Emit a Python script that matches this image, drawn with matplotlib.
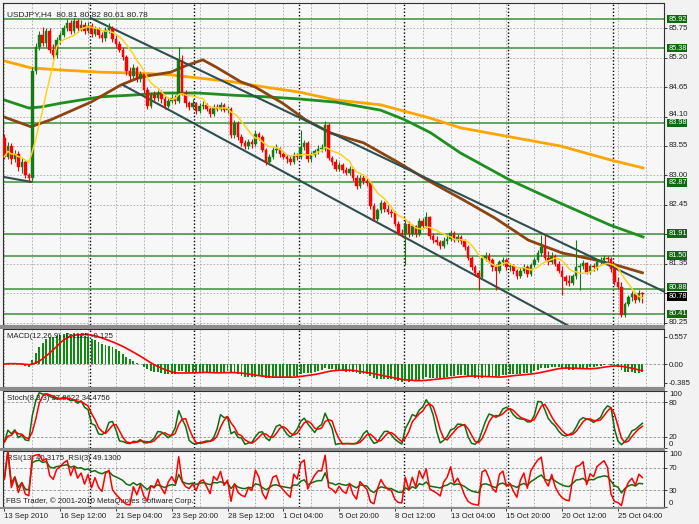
import matplotlib
matplotlib.use("Agg")
import matplotlib.pyplot as plt
import matplotlib.transforms as mtransforms
from matplotlib.patches import Rectangle
import pandas as pd

# ---- USDJPY H4 candles (bar 0 = 13 Sep 2010 20:00) ----
opens = [83.70, 83.35, 83.55, 83.30, 83.40, 83.15, 83.25, 83.00, 82.95, 84.95,
         85.40, 85.62, 85.48, 85.70, 85.34, 85.25, 85.53, 85.62, 85.75, 85.85,
         85.70, 85.88, 85.75, 85.82, 85.70, 85.80, 85.64, 85.74, 85.62, 85.56,
         85.72, 85.76, 85.55, 85.45, 85.35, 85.22, 84.95, 84.85, 85.00, 84.80,
         84.90, 84.60, 84.30, 84.50, 84.45, 84.55, 84.42, 84.30, 84.40, 84.45,
         84.40, 85.15, 84.55, 84.35, 84.28, 84.35, 84.20, 84.30, 84.32, 84.25,
         84.15, 84.28, 84.25, 84.32, 84.22, 84.25, 83.75, 83.98, 83.72, 83.60,
         83.55, 83.62, 83.58, 83.78, 83.72, 83.48, 83.25, 83.35, 83.48, 83.50,
         83.40, 83.35, 83.30, 83.25, 83.38, 83.35, 83.53, 83.60, 83.30, 83.38,
         83.45, 83.50, 83.50, 83.95, 83.32, 83.25, 83.12, 83.20, 83.10, 83.05,
         83.12, 82.95, 82.80, 82.95, 82.90, 82.85, 82.42, 82.18, 82.35, 82.48,
         82.38, 82.32, 82.30, 82.10, 81.92, 81.90, 82.10, 81.90, 82.05, 81.90,
         82.15, 82.05, 82.22, 81.86, 81.80, 81.75, 81.68, 81.78, 81.82, 81.93,
         81.80, 81.84, 81.78, 81.66, 81.46, 81.28, 81.18, 81.10, 81.46, 81.50,
         81.42, 81.28, 81.22, 81.38, 81.42, 81.28, 81.30, 81.22, 81.12, 81.22,
         81.28, 81.15, 81.32, 81.42, 81.55, 81.66, 81.46, 81.38, 81.50, 81.35,
         81.22, 81.10, 81.02, 80.99, 81.12, 81.28, 81.30, 81.36, 81.20, 81.30,
         81.28, 81.38, 81.42, 81.46, 81.44, 81.25, 81.00, 80.92, 80.40, 80.60,
         80.72, 80.78, 80.68, 80.81]
highs = [83.78, 83.62, 83.60, 83.48, 83.45, 83.32, 83.28, 83.05, 85.02, 85.48,
         85.70, 85.78, 85.76, 85.75, 85.45, 85.58, 85.68, 85.82, 85.92, 85.90,
         85.95, 85.93, 85.90, 85.86, 85.87, 85.84, 85.80, 85.78, 85.68, 85.78,
         85.84, 85.80, 85.62, 85.52, 85.40, 85.26, 85.02, 85.08, 85.05, 84.96,
         84.94, 84.66, 84.56, 84.58, 84.60, 84.60, 84.48, 84.46, 84.52, 84.50,
         85.40, 85.25, 84.60, 84.40, 84.42, 84.38, 84.36, 84.40, 84.36, 84.30,
         84.34, 84.34, 84.38, 84.36, 84.30, 84.28, 84.04, 84.02, 83.78, 83.66,
         83.68, 83.68, 83.84, 83.82, 83.76, 83.52, 83.40, 83.54, 83.58, 83.54,
         83.46, 83.40, 83.36, 83.44, 83.42, 83.85, 83.66, 83.64, 83.44, 83.50,
         83.56, 83.58, 84.02, 83.98, 83.36, 83.30, 83.26, 83.24, 83.16, 83.18,
         83.15, 83.00, 83.00, 83.00, 82.96, 82.88, 82.48, 82.40, 82.54, 82.52,
         82.44, 82.38, 82.34, 82.14, 82.00, 82.16, 82.14, 82.10, 82.08, 82.20,
         82.20, 82.32, 82.25, 81.92, 81.86, 81.80, 81.84, 81.88, 81.98, 81.96,
         81.90, 81.88, 81.82, 81.70, 81.50, 81.32, 81.24, 81.50, 81.56, 81.55,
         81.46, 81.34, 81.42, 81.48, 81.46, 81.36, 81.34, 81.26, 81.28, 81.34,
         81.32, 81.36, 81.48, 81.60, 81.89, 81.89, 81.58, 81.56, 81.54, 81.40,
         81.30, 81.14, 81.14, 81.16, 81.79, 81.36, 81.42, 81.38, 81.35, 81.36,
         81.44, 81.48, 81.52, 81.50, 81.48, 81.28, 81.10, 81.00, 80.64, 80.76,
         80.84, 80.82, 80.85, 80.82]
lows = [83.30, 83.30, 83.22, 83.25, 83.08, 83.05, 82.95, 82.88, 82.87, 84.90,
        85.35, 85.42, 85.40, 85.28, 85.18, 85.20, 85.45, 85.58, 85.70, 85.65,
        85.66, 85.68, 85.70, 85.64, 85.66, 85.58, 85.60, 85.56, 85.50, 85.52,
        85.66, 85.50, 85.38, 85.30, 85.15, 84.88, 84.78, 84.80, 84.74, 84.75,
        84.55, 84.24, 84.26, 84.40, 84.40, 84.36, 84.25, 84.26, 84.35, 84.34,
        84.36, 84.50, 84.28, 84.22, 84.24, 84.14, 84.16, 84.24, 84.20, 84.10,
        84.12, 84.20, 84.20, 84.18, 84.16, 83.70, 83.70, 83.66, 83.55, 83.50,
        83.50, 83.52, 83.55, 83.66, 83.44, 83.20, 83.20, 83.30, 83.42, 83.35,
        83.30, 83.24, 83.20, 83.22, 83.28, 83.30, 83.48, 83.26, 83.26, 83.34,
        83.40, 83.44, 83.46, 83.28, 83.20, 83.08, 83.08, 83.04, 83.00, 83.00,
        82.90, 82.74, 82.76, 82.84, 82.80, 82.38, 82.14, 82.14, 82.30, 82.32,
        82.28, 82.22, 82.05, 81.88, 81.84, 81.33, 81.85, 81.86, 81.84, 81.86,
        82.00, 82.02, 81.82, 81.74, 81.70, 81.62, 81.64, 81.72, 81.78, 81.75,
        81.76, 81.72, 81.60, 81.42, 81.24, 81.12, 80.86, 81.06, 81.40, 81.36,
        81.22, 80.86, 81.18, 81.32, 81.24, 81.22, 81.16, 81.06, 81.08, 81.18,
        81.10, 81.12, 81.28, 81.38, 81.50, 81.42, 81.32, 81.34, 81.30, 81.18,
        80.77, 80.96, 80.94, 80.95, 81.06, 80.86, 81.26, 81.15, 81.16, 81.22,
        81.24, 81.34, 81.38, 81.38, 81.20, 80.95, 80.88, 80.35, 80.36, 80.55,
        80.66, 80.62, 80.64, 80.61]
closes = [83.35, 83.55, 83.30, 83.40, 83.15, 83.25, 83.00, 82.95, 84.95, 85.40,
          85.62, 85.48, 85.70, 85.34, 85.25, 85.53, 85.62, 85.75, 85.85, 85.70,
          85.88, 85.75, 85.82, 85.70, 85.80, 85.64, 85.74, 85.62, 85.56, 85.72,
          85.76, 85.55, 85.45, 85.35, 85.22, 84.95, 84.85, 85.00, 84.80, 84.90,
          84.60, 84.30, 84.50, 84.45, 84.55, 84.42, 84.30, 84.40, 84.45, 84.40,
          85.15, 84.55, 84.35, 84.28, 84.35, 84.20, 84.30, 84.32, 84.25, 84.15,
          84.28, 84.25, 84.32, 84.22, 84.25, 83.75, 83.98, 83.72, 83.60, 83.55,
          83.62, 83.58, 83.78, 83.72, 83.48, 83.25, 83.35, 83.48, 83.50, 83.40,
          83.35, 83.30, 83.25, 83.38, 83.35, 83.53, 83.60, 83.30, 83.38, 83.45,
          83.50, 83.50, 83.95, 83.32, 83.25, 83.12, 83.20, 83.10, 83.05, 83.12,
          82.95, 82.80, 82.95, 82.90, 82.85, 82.42, 82.18, 82.35, 82.48, 82.38,
          82.32, 82.30, 82.10, 81.92, 81.90, 82.10, 81.90, 82.05, 81.90, 82.15,
          82.05, 82.22, 81.86, 81.80, 81.75, 81.68, 81.78, 81.82, 81.93, 81.80,
          81.84, 81.78, 81.66, 81.46, 81.28, 81.18, 81.10, 81.46, 81.50, 81.42,
          81.28, 81.22, 81.38, 81.42, 81.28, 81.30, 81.22, 81.12, 81.22, 81.28,
          81.15, 81.32, 81.42, 81.55, 81.66, 81.46, 81.38, 81.50, 81.35, 81.22,
          81.10, 81.02, 80.99, 81.12, 81.28, 81.30, 81.36, 81.20, 81.30, 81.28,
          81.38, 81.42, 81.46, 81.44, 81.25, 81.00, 80.92, 80.40, 80.60, 80.72,
          80.78, 80.68, 80.81, 80.78]

# long moving averages (bar index, price)
brown_x = [0, 7.6, 13.3, 24.8, 33.4, 39.1, 47.7, 52, 56.9, 60.6, 67.8, 72, 79.8,
           86.4, 93.6, 103, 112.8, 122.2, 131.7, 140.8, 150.3, 160, 169.5, 175.2, 183]
brown_y = [84.09, 83.91, 84.04, 84.37, 84.69, 84.84, 84.93, 85.05, 85.16, 85.03, 84.75,
           84.65, 84.35, 84.04, 83.79, 83.61, 83.25, 82.88, 82.54, 82.20, 81.79, 81.55,
           81.42, 81.33, 81.18]
green_x = [0, 7, 10.5, 16.2, 27.7, 36.2, 46.3, 55.7, 65.5, 74.9, 84.4, 95, 107.9,
           114.5, 122.2, 130.8, 145.1, 159.5, 173.8, 183.2]
green_y = [84.41, 84.26, 84.28, 84.35, 84.47, 84.50, 84.54, 84.54, 84.50, 84.47, 84.43,
           84.37, 84.22, 84.05, 83.80, 83.42, 82.91, 82.48, 82.07, 81.85]
orange_x = [0, 7.6, 16.2, 27.7, 39.1, 47.7, 55.7, 65.5, 74.9, 84.4, 95, 107.9,
            122.2, 130.8, 145.1, 159.5, 173.8, 183.2]
orange_y = [85.14, 85.01, 84.97, 84.93, 84.91, 84.88, 84.82, 84.75, 84.65, 84.56,
            84.41, 84.32, 84.07, 83.89, 83.72, 83.55, 83.29, 83.14]

# trend lines (bar index, price)
upper_x, upper_y = [24.8, 189.5], [85.94, 80.82]
lower_x, lower_y = [34.0, 170.0], [84.69, 79.90]
left_x, left_y = [-1.0, 7.6], [82.98, 82.88]

levels = [85.92, 85.38, 83.98, 82.87, 81.91, 81.50, 80.88, 80.41]
price_ticks = [85.75, 85.20, 84.65, 84.10, 83.55, 83.00, 82.45, 81.90, 81.35, 80.80, 80.25]
price_labels = ["85.75", "85.20", "84.65", "84.10", "83.55", "83.00", "82.45", "", "81.35", "", "80.25"]
last_price = 80.78

week_starts = [25, 55, 85, 115, 145, 175]
grid_bars = list(range(0, 190, 8))
date_ticks = [0, 16, 32, 48, 64, 80, 96, 112, 128, 144, 160, 176]
date_labels = ["13 Sep 2010", "16 Sep 12:00", "21 Sep 04:00", "23 Sep 20:00",
               "28 Sep 12:00", "1 Oct 04:00", "5 Oct 20:00", "8 Oct 12:00",
               "13 Oct 04:00", "15 Oct 20:00", "20 Oct 12:00", "25 Oct 04:00"]

# ---- indicators from the candles ----
c = pd.Series(closes)
h = pd.Series(highs)
l = pd.Series(lows)
idx = list(range(len(closes)))
sma8 = c.rolling(8, min_periods=1).mean()
macd = c.ewm(span=12, adjust=False).mean() - c.ewm(span=26, adjust=False).mean()
macd_sig = macd.rolling(9, min_periods=1).mean()
hh = h.rolling(8, min_periods=1).max()
ll = l.rolling(8, min_periods=1).min()
stoch_k = 100 * (c - ll).rolling(3, min_periods=1).sum() / (hh - ll).rolling(3, min_periods=1).sum()
stoch_d = stoch_k.rolling(3, min_periods=1).mean()


def rsi(s, n):
    d = s.diff().fillna(0)
    up = d.clip(lower=0).ewm(alpha=1 / n, adjust=False).mean()
    dn = (-d.clip(upper=0)).ewm(alpha=1 / n, adjust=False).mean()
    return (100 * up / (up + dn)).fillna(50)


rsi13 = rsi(c, 13)
rsi3 = rsi(c, 3)

# ---- figure ----
plt.rcParams['font.family'] = ['Liberation Sans', 'DejaVu Sans']
plt.rcParams['font.size'] = 5.6
W, H = 699, 524
fig = plt.figure(figsize=(W / 100, H / 100), dpi=100)
fig.patch.set_facecolor('#f2f2f2')
BG = '#f7f7f7'
GRID = '#a8a8a8'
TXT = '#202020'


def px_axes(top, bottom):
    return fig.add_axes([3 / W, 1 - bottom / H, 661 / W, (bottom - top) / H])


ax = px_axes(3, 325)
ax_m = px_axes(329, 387)
ax_s = px_axes(391, 448)
ax_r = px_axes(451, 507)
axes = [ax, ax_m, ax_s, ax_r]

# separators between the windows
for y0, y1 in [(325, 329), (387, 391), (448, 451), (507, 509)]:
    fig.patches.append(Rectangle((0, 1 - y1 / H), 665 / W, (y1 - y0) / H,
                                 transform=fig.transFigure, facecolor='#8c8c8c',
                                 edgecolor='none', zorder=0))

for a in axes:
    a.set_facecolor(BG)
    a.set_xlim(-0.4, 189.2)
    for s in a.spines.values():
        s.set_color('#303030')
        s.set_linewidth(0.8)
    for gx in grid_bars:
        a.axvline(gx, color=GRID, lw=0.6, ls=(0, (2, 2)), zorder=0)
    for wx in week_starts:
        a.axvline(wx - 0.5, color='#000000', lw=1.0, ls=(0, (1, 1.5)), zorder=0.5)
    a.yaxis.tick_right()
    a.tick_params(axis='y', length=2, width=0.6, pad=1.5, labelsize=5.6, colors=TXT)
    a.tick_params(axis='x', length=0, labelbottom=False)

# ---- main window ----
ax.set_ylim(80.204, 86.223)
ax.set_yticks(price_ticks)
ax.tick_params(axis='y', labelright=False)
trans = mtransforms.blended_transform_factory(ax.transAxes, ax.transData)
for p, lab in zip(price_ticks, price_labels):
    ax.axhline(p, color=GRID, lw=0.6, ls=(0, (2, 2)), zorder=0)
    if lab:
        dy = 1.6 if lab == "84.10" else 0
        ax.annotate(lab, xy=(1.0, p), xycoords=trans, xytext=(3.5, dy),
                    textcoords='offset points', ha='left', va='center',
                    color=TXT, fontsize=5.6, annotation_clip=False)
for lv in levels:
    ax.axhline(lv, color='#3d8f3d', lw=1.1, zorder=1)

ax.plot(orange_x, orange_y, color='#ffa500', lw=2.0, zorder=2)
ax.plot(green_x, green_y, color='#1f8f1f', lw=2.0, zorder=2)
ax.plot(brown_x, brown_y, color='#8b4513', lw=2.0, zorder=2)
ax.plot(upper_x, upper_y, color='#2f4f4f', lw=1.5, zorder=2)
ax.plot(lower_x, lower_y, color='#2f4f4f', lw=1.5, zorder=2)
ax.plot(left_x, left_y, color='#2f4f4f', lw=1.5, zorder=2)

up_col, dn_col = '#157a15', '#ff0000'
cols = [up_col if cl >= op else dn_col for op, cl in zip(opens, closes)]
ax.vlines(idx, lows, highs, colors=cols, lw=0.8, zorder=3)
bottoms = [min(op, cl) for op, cl in zip(opens, closes)]
heights = [max(abs(cl - op), 0.012) for op, cl in zip(opens, closes)]
ax.bar(idx, heights, bottom=bottoms, width=0.72, color=cols, edgecolor=cols,
       linewidth=0.3, zorder=4)
ax.plot(idx, sma8, color='#ffd21f', lw=1.1, zorder=5)

ax.text(0.006, 0.975, "USDJPY,H4  80.81 80.82 80.61 80.78", transform=ax.transAxes,
        ha='left', va='top', color=TXT, fontsize=6)

box_shift = {80.88: 1.2, 80.78: -1.6}
for lv in levels:
    ax.annotate(f"{lv:.2f}", xy=(1.0, lv), xycoords=trans,
                xytext=(3.0, box_shift.get(lv, 0)), textcoords='offset points',
                ha='left', va='center', color='white', fontsize=5.3,
                annotation_clip=False, zorder=10,
                bbox=dict(boxstyle='square,pad=0.1', facecolor='#0d6b0d', edgecolor='none'))
ax.annotate(f"{last_price:.2f}", xy=(1.0, last_price), xycoords=trans,
            xytext=(3.0, box_shift[80.78]), textcoords='offset points',
            ha='left', va='center', color='white', fontsize=5.3,
            annotation_clip=False, zorder=9,
            bbox=dict(boxstyle='square,pad=0.1', facecolor='#000000', edgecolor='none'))

# ---- MACD ----
ax_m.set_ylim(-0.47, 0.72)
ax_m.set_yticks([0.557, 0.0, -0.385])
ax_m.set_yticklabels(["0.557", "0.00", "-0.385"])
ax_m.axhline(0, color='#909090', lw=0.6, ls=(0, (3, 2)), zorder=0)
ax_m.bar(idx, macd, width=0.55, color='#108a10', zorder=2)
ax_m.plot(idx, macd_sig, color='#ff0000', lw=1.2, zorder=3)
ax_m.text(0.006, 0.93, "MACD(12,26,9) -0.1125 -0.125", transform=ax_m.transAxes,
          ha='left', va='top', color=TXT, fontsize=5.6)

# ---- Stochastic ----
ax_s.set_ylim(0, 100)
ax_s.set_yticks([100, 80, 20, 0])
ax_s.set_yticklabels(["100", "80", "20", "0"])
for lv in [80, 20]:
    ax_s.axhline(lv, color='#909090', lw=0.6, ls=(0, (3, 2)), zorder=0)
ax_s.plot(idx, stoch_k, color='#0f6e0f', lw=1.1, zorder=3)
ax_s.plot(idx, stoch_d, color='#ff0000', lw=1.1, zorder=4)
ax_s.text(0.006, 0.93, "Stoch(8,3,3) 37.8622 34.4756", transform=ax_s.transAxes,
          ha='left', va='top', color=TXT, fontsize=5.6)

# ---- RSI ----
ax_r.set_ylim(0, 100)
ax_r.set_yticks([100, 70, 30, 0])
ax_r.set_yticklabels(["100", "70", "30", "0"])
for lv in [70, 30]:
    ax_r.axhline(lv, color='#909090', lw=0.6, ls=(0, (3, 2)), zorder=0)
ax_r.plot(idx, rsi13, color='#0f6e0f', lw=1.1, zorder=3)
ax_r.plot(idx, rsi3, color='#ff0000', lw=1.1, zorder=4)
ax_r.text(0.006, 0.93, "RSI(13) 40.3175  RSI(3) 49.1300", transform=ax_r.transAxes,
          ha='left', va='top', color=TXT, fontsize=5.6)
ax_r.text(0.004, 0.03, "FBS Trader, \u00a9 2001-2010 MetaQuotes Software Corp.",
          transform=ax_r.transAxes, ha='left', va='bottom', color=TXT, fontsize=5.6)

# top / bottom labels of the oscillator windows sit inside the window
for a in [ax_s, ax_r]:
    labs = a.get_yticklabels()
    labs[0].set_va('top')
    labs[-1].set_va('bottom')

ax_r.set_xticks(date_ticks)
ax_r.set_xticklabels(date_labels)
ax_r.tick_params(axis='x', length=3, width=0.6, direction='out', pad=1.5,
                 labelbottom=True, colors=TXT, labelsize=5.6)
for t in ax_r.get_xticklabels():
    t.set_ha('left')

fig.savefig("out.png", dpi=100, facecolor=fig.get_facecolor())
